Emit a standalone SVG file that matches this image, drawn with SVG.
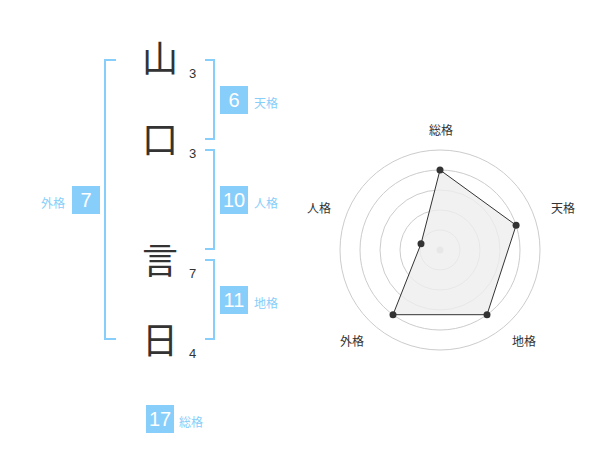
<svg xmlns="http://www.w3.org/2000/svg" width="600" height="470" viewBox="0 0 600 470">
<style>
.kanji{font-family:"Noto Sans CJK JP","Liberation Sans",sans-serif;font-size:36px;fill:#333;text-anchor:middle}
.stroke{font-family:"Liberation Sans",Arial,sans-serif;font-size:13px;fill:#333}
.box{fill:#87cefa}
.boxt{font-family:"Liberation Sans",Arial,sans-serif;font-size:20px;fill:#fff;text-anchor:middle}
.lbl{font-family:"Noto Sans CJK JP","Liberation Sans",sans-serif;font-size:12px;fill:#87cefa}
.br{fill:none;stroke:#87cefa;stroke-width:2}
.ring{fill:none;stroke:#ccc;stroke-width:1}
.rl{font-family:"Noto Sans CJK JP","Liberation Sans",sans-serif;font-size:12px;fill:#333;text-anchor:middle}
.pt{fill:#333}
</style>
<rect width="600" height="470" fill="#fff"/>
<g id="connectors">
<path class="br" d="M116 60H105V339H116"/>
<path class="br" d="M205 60H214V139H205"/>
<path class="br" d="M205 150H214V249H205"/>
<path class="br" d="M205 260H214V339H205"/>
</g>
<g id="char1"><text class="kanji" x="160" y="72">山</text><text class="stroke" x="189" y="78">3</text></g>
<g id="char2"><text class="kanji" x="160" y="153">口</text><text class="stroke" x="189" y="158">3</text></g>
<g id="char3"><text class="kanji" x="160" y="274">言</text><text class="stroke" x="189" y="278">7</text></g>
<g id="char4"><text class="kanji" x="160" y="354">日</text><text class="stroke" x="189" y="358">4</text></g>
<g id="tenkaku"><rect class="box" x="220" y="86" width="28" height="28"/><text class="boxt" x="234" y="107">6</text><text class="lbl" x="254" y="108">天格</text></g>
<g id="jinkaku"><rect class="box" x="220" y="186" width="28" height="28"/><text class="boxt" x="234" y="207">10</text><text class="lbl" x="254" y="208">人格</text></g>
<g id="chikaku"><rect class="box" x="220" y="286" width="28" height="28"/><text class="boxt" x="234" y="307">11</text><text class="lbl" x="254" y="308">地格</text></g>
<g id="gaikaku"><rect class="box" x="72" y="186" width="28" height="28"/><text class="boxt" x="86" y="207">7</text><text class="lbl" x="41" y="208">外格</text></g>
<g id="soukaku"><rect class="box" x="146" y="405" width="28" height="28"/><text class="boxt" x="160" y="426">17</text><text class="lbl" x="179" y="427">総格</text></g>
<g id="radar">
<circle class="ring" cx="440" cy="250" r="20"/>
<circle class="ring" cx="440" cy="250" r="40"/>
<circle class="ring" cx="440" cy="250" r="60"/>
<circle class="ring" cx="440" cy="250" r="80"/>
<circle class="ring" cx="440" cy="250" r="100"/>
<circle cx="440" cy="250" r="3.5" fill="#ccc"/>
<polygon points="440,170 516.1,225.3 487,314.7 393,314.7 421,243.8" fill="#eee" fill-opacity="0.8" stroke="#333" stroke-width="1"/>
<circle class="pt" cx="440" cy="170" r="3.5"/>
<circle class="pt" cx="516.1" cy="225.3" r="3.5"/>
<circle class="pt" cx="487" cy="314.7" r="3.5"/>
<circle class="pt" cx="393" cy="314.7" r="3.5"/>
<circle class="pt" cx="421" cy="243.8" r="3.5"/>
<text class="rl" x="441" y="135">総格</text>
<text class="rl" x="563" y="213">天格</text>
<text class="rl" x="524" y="346">地格</text>
<text class="rl" x="352" y="346">外格</text>
<text class="rl" x="319" y="213">人格</text>
</g>
</svg>
